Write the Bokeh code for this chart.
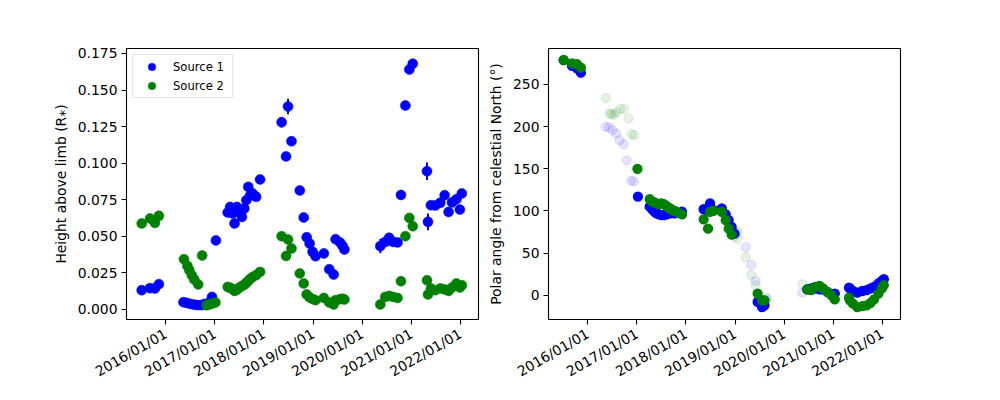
import math
from datetime import datetime
from bokeh.plotting import figure
from bokeh.models import (ColumnDataSource, Range1d, FixedTicker, DatetimeTickFormatter,
                          PrintfTickFormatter, Legend, LegendItem)
from bokeh.layouts import row
from bokeh.embed import file_html
from bokeh.resources import INLINE

# ---------------- data (decimal years) ----------------
s1_time = [2015.51, 2015.68, 2015.78, 2015.86,
           2016.36, 2016.43, 2016.50, 2016.58, 2016.65, 2016.73, 2016.79, 2016.88, 2016.94, 2017.02,
           2017.26, 2017.31, 2017.36, 2017.40, 2017.45, 2017.50, 2017.55, 2017.60, 2017.64, 2017.68,
           2017.72, 2017.77, 2017.84, 2017.92,
           2018.36, 2018.45, 2018.49, 2018.56, 2018.73, 2018.81, 2018.87, 2018.93, 2018.99, 2019.05,
           2019.22, 2019.33, 2019.42, 2019.46, 2019.55, 2019.60, 2019.64,
           2020.37, 2020.47, 2020.55, 2020.63, 2020.72, 2020.79, 2020.88, 2020.96, 2021.03,
           2021.32, 2021.34, 2021.40, 2021.49, 2021.59, 2021.68, 2021.76, 2021.83, 2021.92, 2021.99, 2022.03]
s1_height = [0.0132, 0.0146, 0.0144, 0.0173,
             0.0050, 0.0045, 0.0038, 0.0033, 0.0030, 0.0030, 0.0038, 0.0046, 0.0086, 0.0472,
             0.0663, 0.0701, 0.0656, 0.0588, 0.0701, 0.0667, 0.0633, 0.0690, 0.0747, 0.0838,
             0.0781, 0.0793, 0.0770, 0.0889,
             0.1280, 0.1046, 0.1387, 0.1150, 0.0813, 0.0629, 0.0494, 0.0451, 0.0394, 0.0364,
             0.0383, 0.0275, 0.0239, 0.0480, 0.0458, 0.0435, 0.0410,
             0.0433, 0.0462, 0.0490, 0.0462, 0.0458, 0.0783, 0.1394, 0.1640, 0.1680,
             0.0945, 0.0599, 0.0713, 0.0711, 0.0729, 0.0781, 0.0667, 0.0731, 0.0754, 0.0683, 0.0793]
s1_height_err = [0.0010, 0.0010, 0.0010, 0.0010,
                 0.0008, 0.0008, 0.0008, 0.0008, 0.0008, 0.0008, 0.0008, 0.0008, 0.0010, 0.0015,
                 0.0015, 0.0015, 0.0015, 0.0015, 0.0015, 0.0015, 0.0015, 0.0015, 0.0015, 0.0015,
                 0.0015, 0.0015, 0.0015, 0.0015,
                 0.0036, 0.0015, 0.0053, 0.0025, 0.0015, 0.0015, 0.0015, 0.0015, 0.0015, 0.0015,
                 0.0015, 0.0015, 0.0015, 0.0015, 0.0015, 0.0015, 0.0015,
                 0.0048, 0.0015, 0.0015, 0.0015, 0.0015, 0.0015, 0.0020, 0.0020, 0.0020,
                 0.0060, 0.0057, 0.0015, 0.0015, 0.0015, 0.0015, 0.0015, 0.0015, 0.0015, 0.0015, 0.0015]
s1_polar = [279, 272, 269, 264,
            200, 199, 196, 192, 184, 179, 160, 136, 135, 117,
            105, 102, 99, 97, 96, 95, 95, 96, 97, 97, 98, 97, 98, 99,
            102, 100, 109, 101, 103, 96, 89, 81, 73, 75,
            57, 36, 17, -8, -14, -12, -5,
            3, 7, 8, 8, 7, 7, 4, 1, 2,
            9, 8, 5, 3, 5, 6, 8, 10, 14, 17, 19]
s1_faint = [0, 0, 0, 0,
            1, 1, 1, 1, 1, 1, 1, 1, 1, 0,
            0, 0, 0, 0, 0, 0, 0, 0, 0, 0, 0, 0, 0, 0,
            0, 0, 0, 0, 0, 0, 0, 0, 0, 1,
            1, 1, 1, 0, 0, 0, 1,
            1, 0, 0, 0, 0, 0, 0, 0, 0,
            0, 0, 0, 0, 0, 0, 0, 0, 0, 0, 0]

s2_time = [2015.51, 2015.68, 2015.78, 2015.86,
           2016.37, 2016.44, 2016.48, 2016.53, 2016.58, 2016.66, 2016.74, 2016.83, 2016.89, 2016.95, 2017.01,
           2017.26, 2017.31, 2017.36, 2017.40, 2017.45, 2017.50, 2017.55, 2017.60, 2017.64, 2017.68,
           2017.72, 2017.77, 2017.84, 2017.92,
           2018.36, 2018.45, 2018.49, 2018.56, 2018.73, 2018.81, 2018.87, 2018.93, 2018.99, 2019.05,
           2019.22, 2019.33, 2019.42, 2019.46, 2019.55, 2019.60, 2019.64,
           2020.37, 2020.47, 2020.55, 2020.63, 2020.72, 2020.79, 2020.88, 2020.96, 2021.03,
           2021.32, 2021.34, 2021.40, 2021.49, 2021.59, 2021.68, 2021.76, 2021.83, 2021.92, 2021.99, 2022.03]
s2_height = [0.0588, 0.0622, 0.0592, 0.0640,
             0.0344, 0.0298, 0.0269, 0.0234, 0.0205, 0.0171, 0.0369, 0.0029, 0.0034, 0.0041, 0.0048,
             0.0154, 0.0148, 0.0140, 0.0127, 0.0135, 0.0150, 0.0160, 0.0170, 0.0182, 0.0195,
             0.0210, 0.0222, 0.0235, 0.0257,
             0.0501, 0.0366, 0.0478, 0.0417, 0.0246, 0.0178, 0.0103, 0.0082, 0.0072, 0.0064,
             0.0079, 0.0048, 0.0034, 0.0064, 0.0070, 0.0073, 0.0068,
             0.0034, 0.0086, 0.0093, 0.0086, 0.0079, 0.0193, 0.0501, 0.0626, 0.0569,
             0.0200, 0.0103, 0.0144, 0.0132, 0.0144, 0.0137, 0.0127, 0.0150, 0.0178, 0.0150, 0.0166]
s2_height_err = [0.0008] * len(s2_height)
s2_polar = [279, 275, 274, 270,
            234, 216, 215, 214, 217, 221, 221, 210, 191, 190, 150,
            114, 111, 110, 109, 108, 109, 108, 106, 104, 103, 101, 100, 98, 96,
            90, 79, 99, 100, 99, 89, 79, 72, 70, 67,
            45, 24, 12, 2, -6, -6, -3,
            13, 7, 6, 10, 11, 8, 4, 0, -5,
            -3, -6, -10, -14, -13, -12, -9, -5, 2, 8, 12]
s2_faint = [0, 0, 0, 0,
            1, 1, 1, 1, 1, 1, 1, 1, 1, 1, 0,
            0, 0, 0, 0, 0, 0, 0, 0, 0, 0, 0, 0, 0, 0,
            0, 0, 0, 0, 0, 0, 0, 0, 1, 1,
            1, 1, 1, 0, 0, 0, 1,
            1, 0, 0, 0, 0, 0, 0, 0, 0,
            0, 0, 0, 0, 0, 0, 0, 0, 0, 0, 0]

tick_years = [2016, 2017, 2018, 2019, 2020, 2021, 2022]
height_ticks = [0.0, 0.025, 0.05, 0.075, 0.1, 0.125, 0.15, 0.175]
polar_ticks = [0, 50, 100, 150, 200, 250]

# ---------------- helpers ----------------
def dec2dt(y):
    yr = int(math.floor(y))
    a = datetime(yr, 1, 1)
    b = datetime(yr + 1, 1, 1)
    return a + (b - a) * (y - yr)

EPOCH = datetime(1970, 1, 1)
def ms(dt):
    return (dt - EPOCH).total_seconds() * 1000.0

FONT = "DejaVu Sans"
FS = "13.9px"

def make_source(t, h, e, pol, faint):
    xs = [dec2dt(v) for v in t]
    return ColumnDataSource(dict(
        x=xs, h=h, lo=[a - b for a, b in zip(h, e)], hi=[a + b for a, b in zip(h, e)],
        pol=pol, alpha=[0.1 if f else 1.0 for f in faint]))

src1 = make_source(s1_time, s1_height, s1_height_err, s1_polar, s1_faint)
src2 = make_source(s2_time, s2_height, s2_height_err, s2_polar, s2_faint)

x_start = dec2dt(2015.20)
x_end = dec2dt(2022.37)
tick_ms = [ms(datetime(y, 1, 1)) for y in tick_years]
fmt = "%Y/%m/%d"

def style(p, yticks, yfmt):
    p.xaxis.ticker = FixedTicker(ticks=tick_ms)
    p.xaxis.formatter = DatetimeTickFormatter(
        years=fmt, months=fmt, days=fmt, hours=fmt, minutes=fmt, seconds=fmt,
        milliseconds=fmt, microseconds=fmt, hourmin=fmt, minsec=fmt)
    p.yaxis.ticker = FixedTicker(ticks=yticks)
    p.yaxis.formatter = PrintfTickFormatter(format=yfmt)
    p.xaxis.major_label_orientation = math.pi / 6
    for ax in (p.xaxis[0], p.yaxis[0]):
        ax.major_label_text_font = FONT
        ax.major_label_text_font_size = FS
        ax.major_label_text_color = "black"
        ax.axis_label_text_font = FONT
        ax.axis_label_text_font_size = FS
        ax.axis_label_text_font_style = "normal"
        ax.axis_label_text_color = "black"
        ax.axis_line_color = None
        ax.major_tick_in = 0
        ax.major_tick_out = 5
        ax.major_tick_line_width = 1.1
        ax.major_tick_line_color = "black"
        ax.minor_tick_line_color = None
        ax.major_label_standoff = 4
        ax.axis_label_standoff = 6
    p.xaxis.major_label_standoff = 8
    p.xgrid.visible = False
    p.ygrid.visible = False
    p.outline_line_color = "black"
    p.outline_line_width = 1.1
    p.outline_line_alpha = 1.0
    p.background_fill_color = "white"
    p.border_fill_color = "white"

# ---------------- left: height ----------------
p1 = figure(width=480, height=392, x_axis_type="datetime",
            x_range=Range1d(x_start, x_end), y_range=Range1d(-0.00684, 0.1784),
            output_backend="svg", toolbar_location=None,
            min_border_left=126, min_border_right=2, min_border_top=48, min_border_bottom=73)
style(p1, height_ticks, "%.3f")
p1.yaxis.axis_label = "Height above limb (R\u204e)"

e1 = p1.segment(x0="x", y0="lo", x1="x", y1="hi", source=src1, line_color="blue", line_width=2)
c1 = p1.scatter(x="x", y="h", source=src1, size=10, fill_color="blue", line_color="blue", line_width=0.5)
e2 = p1.segment(x0="x", y0="lo", x1="x", y1="hi", source=src2, line_color="green", line_width=2)
c2 = p1.scatter(x="x", y="h", source=src2, size=10, fill_color="green", line_color="green", line_width=0.5)

legend = Legend(items=[LegendItem(label="Source 1", renderers=[c1]),
                       LegendItem(label="Source 2", renderers=[c2])],
                location="top_left")
legend.margin = 6
legend.padding = 2
legend.spacing = 0
legend.glyph_width = 33
legend.glyph_height = 19
legend.label_height = 19
legend.label_width = 57
legend.label_standoff = 5
legend.label_text_font = FONT
legend.label_text_font_size = "11.6px"
legend.label_text_color = "black"
legend.border_line_color = "#cccccc"
legend.border_line_width = 1
legend.background_fill_alpha = 0.8
p1.add_layout(legend, "center")

# ---------------- right: polar angle ----------------
p2 = figure(width=500, height=392, x_axis_type="datetime",
            x_range=Range1d(x_start, x_end), y_range=Range1d(-28.8, 292.7),
            output_backend="svg", toolbar_location=None,
            min_border_left=68, min_border_right=80, min_border_top=48, min_border_bottom=73)
style(p2, polar_ticks, "%d")
p2.yaxis.axis_label = "Polar angle from celestial North (\u00b0)"

p2.scatter(x="x", y="pol", source=src1, size=9, fill_color="blue", line_color="blue",
           line_width=1.3, fill_alpha="alpha", line_alpha="alpha")
p2.scatter(x="x", y="pol", source=src2, size=9, fill_color="green", line_color="green",
           line_width=1.3, fill_alpha="alpha", line_alpha="alpha")

layout = row(p1, p2)
open("out.html", "w").write(file_html(layout, INLINE))
